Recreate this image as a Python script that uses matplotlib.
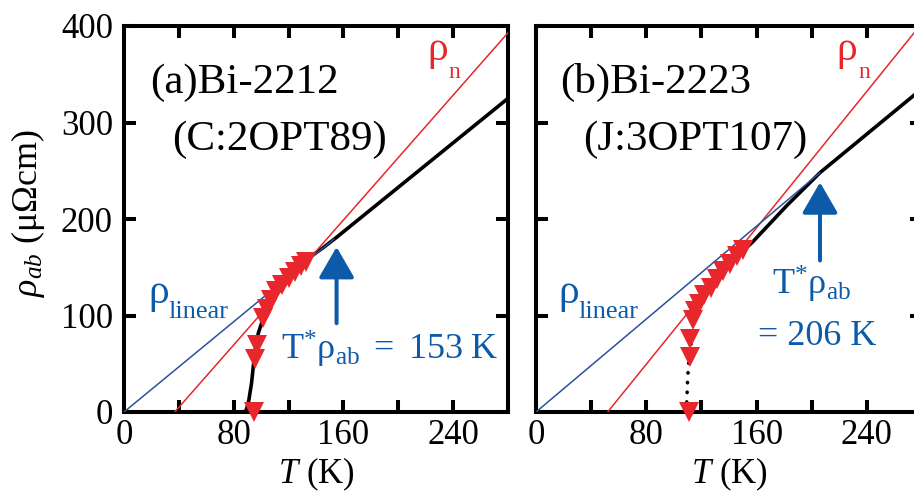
import matplotlib
matplotlib.use('Agg')
import matplotlib.pyplot as plt
from matplotlib.ticker import MultipleLocator

plt.rcParams['font.family'] = ['Liberation Serif', 'DejaVu Serif']
plt.rcParams['mathtext.fontset'] = 'custom'
plt.rcParams['mathtext.rm'] = 'Liberation Serif'
plt.rcParams['mathtext.it'] = 'Liberation Serif:italic'
plt.rcParams['mathtext.default'] = 'rm'

RED = '#e8272c'
BLUE_LINE = '#2c4f9e'
BLUE = '#0d5ba8'

# (a) Bi-2212, C:2OPT89
Ta_black = [86, 89, 91, 93, 94.5, 96, 98, 101, 105, 110, 116, 122, 128, 134, 145, 155, 280]
rho_a_black = [0, 1, 12, 30, 50, 68, 82, 95, 108, 120, 132, 143, 152, 159, 170, 181, 325]
Ta_tri = [94.5, 95.5, 97, 101, 104, 107.5, 111, 115.5, 120, 124.5, 129, 132.5]
rho_a_tri = [0, 55, 69, 97, 107, 116, 125, 132, 139, 145, 151, 155]
Ta_lin = [0, 153]
rho_a_lin = [0, 179]
Ta_n = [37, 280]
rho_a_n = [0, 393]
Ta_star = 155

# (b) Bi-2223, J:3OPT107
Tb_dot = [109, 109.5, 110, 111, 112.5, 114, 116, 122, 131.5, 140.5, 148]
rho_b_dot = [0, 15, 35, 55, 70, 90, 103, 121, 138, 153, 164]
Tb_black = [148, 157, 182, 206, 274, 280]
rho_b_black = [164, 176, 214, 248, 328, 335]
Tb_tri = [111, 111.5, 112, 114, 115.5, 118, 122, 127, 131.5, 135.5, 140.5, 145.5, 150]
rho_b_tri = [0, 57, 76, 95, 105, 112, 121, 129, 138, 146, 153, 162, 168]
Tb_lin = [0, 206]
rho_b_lin = [0, 248]
Tb_n = [52, 280]
rho_b_n = [0, 403]
Tb_star = 206

fig = plt.figure(figsize=(9.14, 4.93), dpi=100)
ax1 = fig.add_axes([124/914, 1-412/493, 384/914, 386/493])
ax2 = fig.add_axes([536/914, 1-412/493, 386/914, 386/493])


def style(ax):
    ax.set_xlim(0, 280)
    ax.set_ylim(0, 400)
    ax.xaxis.set_major_locator(MultipleLocator(80))
    ax.xaxis.set_minor_locator(MultipleLocator(40))
    ax.yaxis.set_major_locator(MultipleLocator(100))
    ax.yaxis.set_minor_locator(MultipleLocator(100))
    ax.tick_params(which='both', direction='in', top=True, right=True,
                   length=8.6, width=2.9, labelsize=25)
    ax.tick_params(axis='x', pad=5)
    ax.tick_params(axis='y', pad=8)
    for s in ax.spines.values():
        s.set_linewidth(2.9)
    ax.text(0.5, -0.184, r'$\mathit{T}$ (K)', transform=ax.transAxes,
            ha='center', va='baseline', fontsize=25)


def arrow(ax, T, y0, y1):
    ax.annotate('', xy=(T, y1), xytext=(T, y0),
                arrowprops=dict(arrowstyle='-|>,head_length=1.9,head_width=1.1',
                                mutation_scale=10, lw=2.9, color=BLUE,
                                shrinkA=0, shrinkB=0))


def rho_sub(ax, x, y, sub, color, dx, dy, subsize):
    ax.text(x, y, 'ρ', fontsize=30, color=color, ha='left', va='baseline')
    ax.annotate(sub, xy=(x, y), xytext=(dx, -dy), textcoords='offset points',
                fontsize=subsize, color=color, ha='left', va='baseline')


style(ax1)
style(ax2)
ax2.tick_params(labelleft=False)

# panel a
ax1.plot(Ta_black, rho_a_black, color='black', lw=2.6, zorder=2)
ax1.plot(Ta_n, rho_a_n, color=RED, lw=1.1, zorder=3)
ax1.plot(Ta_lin, rho_a_lin, color=BLUE_LINE, lw=1.1, zorder=4)
ax1.plot(Ta_tri, rho_a_tri, 'v', color=RED, ms=14, mew=0, zorder=5, clip_on=False)
arrow(ax1, Ta_star, 92, 171)
ax1.text(19, 330.5, '(a)Bi-2212', fontsize=31, ha='left', va='baseline')
ax1.text(35, 271.5, '(C:2OPT89)', fontsize=31, ha='left', va='baseline')
rho_sub(ax1, 221, 365, 'n', RED, 15.5, 13, 17)
rho_sub(ax1, 17.5, 113, 'linear', BLUE, 15, 10.8, 19)
ax1.text(194, 54, r'$\mathrm{T^{*}\rho_{ab}\ =\ 153\ K}$', fontsize=26, color=BLUE,
         ha='center', va='baseline')

# panel b
ax2.plot(Tb_dot, rho_b_dot, color='black', lw=2.6, ls=(0, (0.1, 2.6)),
         dash_capstyle='round', zorder=2)
ax2.plot(Tb_black, rho_b_black, color='black', lw=2.6, zorder=2)
ax2.plot(Tb_n, rho_b_n, color=RED, lw=1.1, zorder=3)
ax2.plot(Tb_lin, rho_b_lin, color=BLUE_LINE, lw=1.1, zorder=4)
ax2.plot(Tb_tri, rho_b_tri, 'v', color=RED, ms=14, mew=0, zorder=5, clip_on=False)
arrow(ax2, Tb_star, 157, 238)
ax2.text(17.4, 330.5, '(b)Bi-2223', fontsize=31, ha='left', va='baseline')
ax2.text(34, 271.5, '(J:3OPT107)', fontsize=31, ha='left', va='baseline')
rho_sub(ax2, 218, 365, 'n', RED, 15.5, 13, 17)
rho_sub(ax2, 16, 113, 'linear', BLUE, 15, 10.8, 19)
ax2.text(200, 121, r'$\mathrm{T^{*}\rho_{ab}}$', fontsize=26, color=BLUE,
         ha='center', va='baseline')
ax2.text(204, 69, '= 206 K', fontsize=26, color=BLUE, ha='center', va='baseline')

fig.text(28/914, 1-213/493, r'$\mathit{\rho_{ab}}$ (μΩcm)', rotation=90,
         ha='center', va='center', fontsize=26)

fig.savefig('out.png', dpi=100)
